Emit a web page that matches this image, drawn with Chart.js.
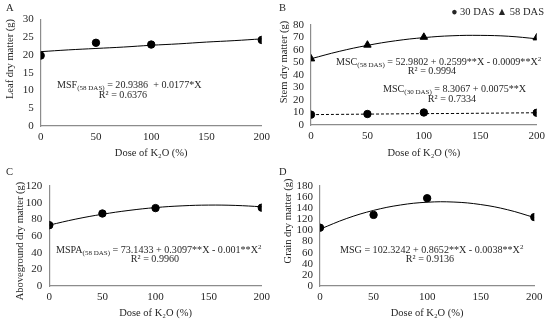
<!DOCTYPE html>
<html>
<head>
<meta charset="utf-8">
<script src="https://cdn.jsdelivr.net/npm/chart.js@4"></script>
<style>
  html, body { margin: 0; padding: 0; background: #fff; }
  #wrap { position: relative; width: 550px; height: 320px; overflow: hidden;
          font-family: "Liberation Serif", "DejaVu Serif", serif; color: #262626; }
  .panel { position: absolute; width: 275px; height: 160px; }
  .txt { position: absolute; white-space: nowrap; font-size: 10.5px; line-height: 1; }
  .eq { font-size: 10.1px; }
  .ctr { transform: translateX(-50%); }
  .ytitle { position: absolute; white-space: nowrap; font-size: 10.5px; line-height: 1;
            transform: translate(-50%, -50%) rotate(-90deg); }
  .sub { font-size: 7px; vertical-align: -2px; }
  .sup { font-size: 7px; vertical-align: 4px; }
  .letter { position: absolute; font-size: 10.5px; }
</style>
</head>
<body>
<div id="wrap">
  <div class="panel" style="left:0;top:0"><canvas id="chartA"></canvas></div>
  <div class="panel" style="left:275px;top:0"><canvas id="chartB"></canvas></div>
  <div class="panel" style="left:0;top:160px"><canvas id="chartC"></canvas></div>
  <div class="panel" style="left:275px;top:160px"><canvas id="chartD"></canvas></div>

  <div class="letter" style="left:6px;top:2px">A</div>
  <div class="letter" style="left:279px;top:2px">B</div>
  <div class="letter" style="left:6px;top:166px">C</div>
  <div class="letter" style="left:279px;top:166px">D</div>

  <div class="ytitle" style="left:10px;top:59px">Leaf dry matter (g)</div>
  <div class="ytitle" style="left:284px;top:62px">Stem dry matter (g)</div>
  <div class="ytitle" style="left:20px;top:241px">Aboveground dry matter (g)</div>
  <div class="ytitle" style="left:288px;top:221px">Grain dry matter (g)</div>

  <div class="txt" style="right:6px;top:7px">● 30 DAS ▲ 58 DAS</div>

  <div class="txt eq" style="left:57px;top:80px">MSF<span class="sub">(58 DAS)</span> = 20.9386 &nbsp;+ 0.0177*X</div>
  <div class="txt eq ctr" style="left:123px;top:90px">R² = 0.6376</div>

  <div class="txt eq" style="left:336px;top:56px">MSC<span class="sub">(58 DAS)</span> = 52.9802 + 0.2599**X - 0.0009**X<span class="sup">2</span></div>
  <div class="txt eq ctr" style="left:432px;top:66px">R² = 0.9994</div>
  <div class="txt eq" style="left:383px;top:84px">MSC<span class="sub">(30 DAS)</span> = 8.3067 + 0.0075**X</div>
  <div class="txt eq ctr" style="left:452px;top:94px">R² = 0.7334</div>

  <div class="txt eq" style="left:56px;top:244px">MSPA<span class="sub">(58 DAS)</span> = 73.1433 + 0.3097**X - 0.001**X<span class="sup">2</span></div>
  <div class="txt eq ctr" style="left:155px;top:254px">R² = 0.9960</div>

  <div class="txt eq" style="left:340px;top:244px">MSG = 102.3242 + 0.8652**X - 0.0038**X<span class="sup">2</span></div>
  <div class="txt eq ctr" style="left:430px;top:254px">R² = 0.9136</div>
</div>

<script>
// doses applied (% of K2O)
const doses = [0, 50, 100, 200];
const curveDoses = [0, 25, 50, 75, 100, 125, 150, 175, 200];

// A: leaf dry matter, 58 DAS
const leafObs = [19.8, 23.4, 22.9, 24.2];
const leafFit = [20.9, 21.4, 21.8, 22.2, 22.7, 23.1, 23.6, 24.0, 24.5];

// B: stem dry matter
const stem30Obs = [8.3, 8.8, 10.0, 9.8];
const stem30Fit = [8.3, 8.5, 8.7, 8.9, 9.1, 9.2, 9.4, 9.6, 9.8];
const stem58Obs = [53.0, 64.0, 70.3, 69.8];
const stem58Fit = [53.0, 58.9, 63.7, 67.4, 69.9, 71.4, 71.7, 71.0, 69.0];

// C: aboveground dry matter
const aboveObs = [73.0, 87.0, 93.5, 94.0];
const aboveFit = [73.1, 80.3, 86.1, 90.7, 94.1, 96.2, 97.1, 96.7, 95.1];

// D: grain dry matter
const grainObs = [105, 128, 158, 124];
const grainFit = [102.3, 121.6, 136.1, 145.8, 150.8, 151.1, 146.6, 137.3, 123.3];

const AXIS_COLOR = "#8c8c8c";
const TEXT_COLOR = "#262626";
const FONT = "'Liberation Serif', 'DejaVu Serif', serif";

function pts(xs, ys) {
    return xs.map((x, i) => ({ x, y: ys[i] }));
}

function fitLine(ys, dashed) {
    return {
        type: "line",
        data: pts(curveDoses, ys),
        borderColor: "#000",
        borderWidth: 1,
        borderDash: dashed ? [3, 2] : [],
        pointRadius: 0,
        tension: 0.4,
        fill: false,
        order: 2,
    };
}

function obsPoints(ys, style) {
    return {
        type: "scatter",
        data: pts(doses, ys),
        backgroundColor: "#000",
        borderColor: "#000",
        pointStyle: style || "circle",
        pointRadius: style === "triangle" ? 4.3 : 3.7,
        order: 1,
    };
}

function makeChart(id, datasets, yMax, yStep, box) {
    new Chart(document.getElementById(id), {
        data: { datasets },
        options: {
            responsive: true,
            maintainAspectRatio: false,
            animation: false,
            layout: { padding: { top: box.top, right: box.right, left: 0, bottom: 0 } },
            plugins: { legend: { display: false }, tooltip: { enabled: false } },
            scales: {
                x: {
                    type: "linear",
                    min: 0,
                    max: 200,
                    ticks: { stepSize: 50, autoSkip: false, maxRotation: 0, color: TEXT_COLOR, padding: 5,
                             font: { family: FONT, size: 11 } },
                    grid: { display: false, drawTicks: false },
                    border: { color: AXIS_COLOR, width: 1.2 },
                    title: {
                        display: true,
                        text: "Dose of K₂O (%)",
                        color: TEXT_COLOR,
                        padding: { top: 4, bottom: 0 },
                        font: { family: FONT, size: 10.5 },
                    },
                    afterFit: (s) => { s.height = box.bottom; },
                },
                y: {
                    min: 0,
                    max: yMax,
                    ticks: { stepSize: yStep, autoSkip: false, color: TEXT_COLOR, padding: 7,
                             font: { family: FONT, size: 11 } },
                    grid: { display: false, drawTicks: false },
                    border: { color: AXIS_COLOR, width: 1.2 },
                    afterFit: (s) => { s.width = box.left; },
                },
            },
        },
    });
}

makeChart("chartA", [fitLine(leafFit), obsPoints(leafObs)], 30, 5,
    { left: 40.7, right: 12.7, top: 19.3, bottom: 34 });

makeChart("chartB", [
    fitLine(stem58Fit), obsPoints(stem58Obs, "triangle"),
    fitLine(stem30Fit, true), obsPoints(stem30Obs),
], 80, 10, { left: 36, right: 13.3, top: 25, bottom: 35 });

makeChart("chartC", [fitLine(aboveFit), obsPoints(aboveObs)], 120, 20,
    { left: 49.3, right: 11.7, top: 26, bottom: 34 });

makeChart("chartD", [fitLine(grainFit), obsPoints(grainObs)], 180, 20,
    { left: 45, right: 15.7, top: 26, bottom: 34 });
</script>
</body>
</html>
